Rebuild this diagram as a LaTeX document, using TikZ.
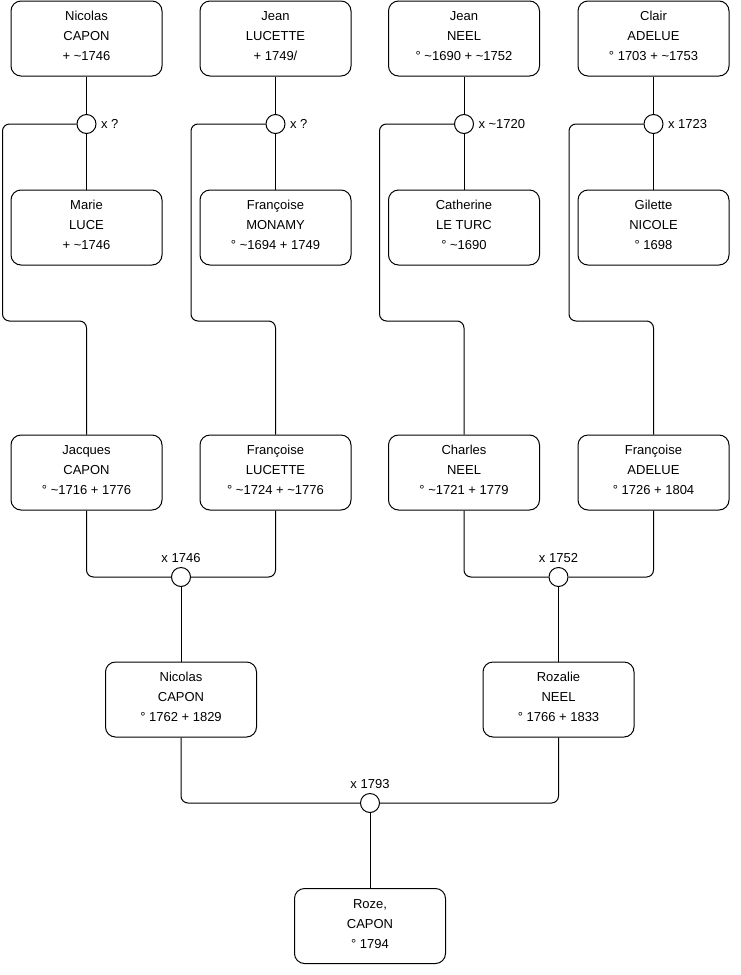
\documentclass[tikz,border=0pt]{standalone}
\usepackage{fontspec}
\setmainfont{Liberation Sans}
\usetikzlibrary{positioning}

\begin{document}
\begin{tikzpicture}[x=1pt, y=-1pt, line width=1pt,
  person/.style={rectangle, draw, rounded corners=10pt, fill=white, minimum width=151pt, minimum height=75pt, align=center, inner sep=2pt, text height=48.3pt, text depth=4pt, font=\fontsize{13}{20}\selectfont},
  union/.style={circle, draw, fill=white, minimum size=19pt, inner sep=0pt},
  note/.style={inner sep=0pt, font=\fontsize{13}{15}\selectfont},
  link/.style={draw, rounded corners=7pt}]

\useasboundingbox (0,0) rectangle (740,975);

% grands-parents
\node[person] (f1) at (86.5,38.5) {Nicolas\\CAPON\\+ \textasciitilde1746};
\node[person] (f2) at (275.5,38.5) {Jean\\LUCETTE\\+ 1749/};
\node[person] (f3) at (464,38.5) {Jean\\NEEL\\° \textasciitilde1690 + \textasciitilde1752};
\node[person] (f4) at (653.5,38.5) {Clair\\ADELUE\\° 1703 + \textasciitilde1753};

\node[union] (u1) at (86.5,124) {};
\node[union] (u2) at (275.5,124) {};
\node[union] (u3) at (464,124) {};
\node[union] (u4) at (653.5,124) {};
\node[note, right=4pt of u1] (x1) {x ?};
\node[note, right=4pt of u2] (x2) {x ?};
\node[note, right=4pt of u3] (x3) {x \textasciitilde1720};
\node[note, right=4pt of u4] (x4) {x 1723};

\node[person] (m1) at (86.5,227.5) {Marie\\LUCE\\+ \textasciitilde1746};
\node[person] (m2) at (275.5,227.5) {Françoise\\MONAMY\\° \textasciitilde1694 + 1749};
\node[person] (m3) at (464,227.5) {Catherine\\LE TURC\\° \textasciitilde1690};
\node[person] (m4) at (653.5,227.5) {Gilette\\NICOLE\\° 1698};

% parents
\node[person] (c1) at (86.5,472.5) {Jacques\\CAPON\\° \textasciitilde1716 + 1776};
\node[person] (c2) at (275.5,472.5) {Françoise\\LUCETTE\\° \textasciitilde1724 + \textasciitilde1776};
\node[person] (c3) at (464,472.5) {Charles\\NEEL\\° \textasciitilde1721 + 1779};
\node[person] (c4) at (653.5,472.5) {Françoise\\ADELUE\\° 1726 + 1804};

\node[union] (u5) at (181,577) {};
\node[union] (u6) at (558.5,577) {};
\node[note, above=4pt of u5] (x5) {x 1746};
\node[note, above=4pt of u6] (x6) {x 1752};

\node[person] (g1) at (181,699.5) {Nicolas\\CAPON\\° 1762 + 1829};
\node[person] (g2) at (558.5,699.5) {Rozalie\\NEEL\\° 1766 + 1833};

\node[union] (u7) at (370,803) {};
\node[note, above=4pt of u7] (x7) {x 1793};

\node[person] (r1) at (370,926) {Roze,\\CAPON\\° 1794};

% liens
\draw (f1) -- (u1) -- (m1);
\draw (f2) -- (u2) -- (m2);
\draw (f3) -- (u3) -- (m3);
\draw (f4) -- (u4) -- (m4);

\draw[link] (u1) -| (2.5,321) -| (c1);
\draw[link] (u2) -| (191,321) -| (c2);
\draw[link] (u3) -| (379.5,321) -| (c3);
\draw[link] (u4) -| (569,321) -| (c4);

\draw[link] (c1) |- (u5) -| (c2);
\draw[link] (c3) |- (u6) -| (c4);
\draw (u5) -- (g1);
\draw (u6) -- (g2);

\draw[link] (g1) |- (u7) -| (g2);
\draw (u7) -- (r1);

\end{tikzpicture}
\end{document}
